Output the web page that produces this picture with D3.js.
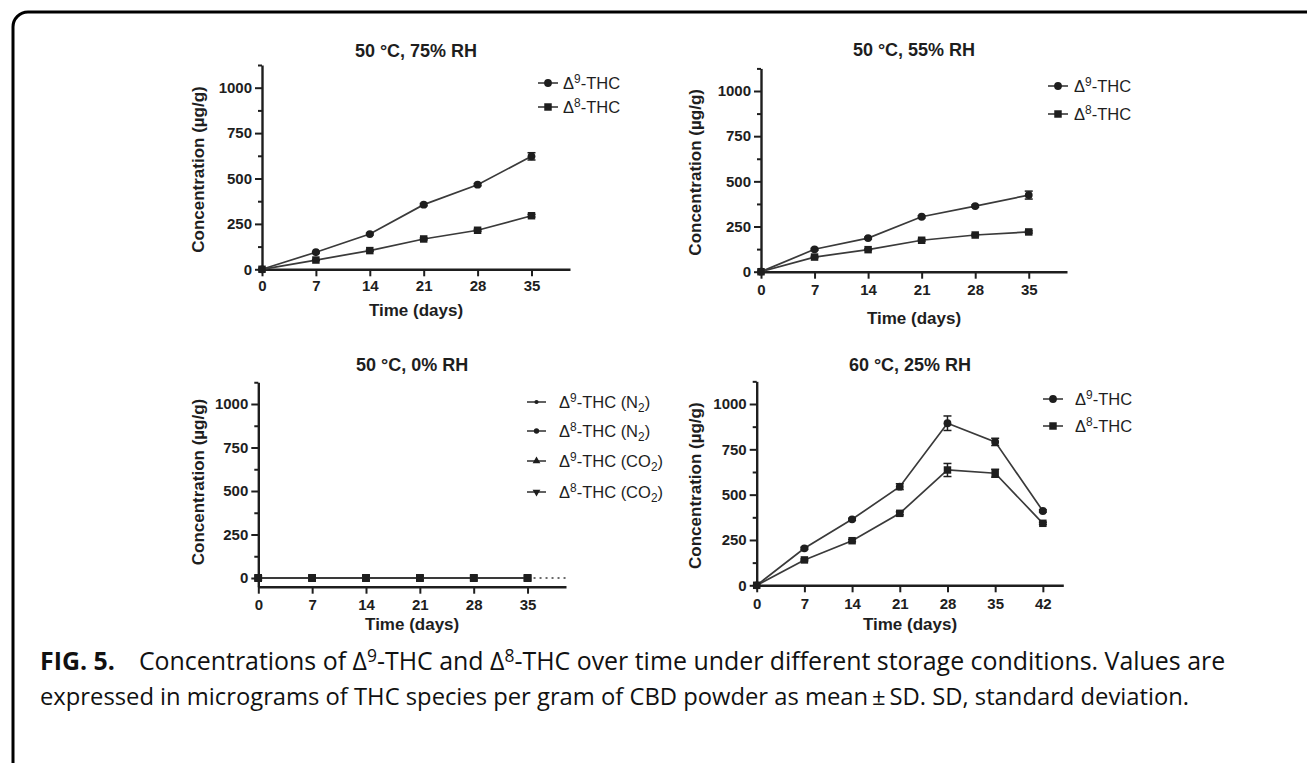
<!DOCTYPE html>
<html>
<head>
<meta charset="utf-8">
<script src="https://cdn.jsdelivr.net/npm/d3@7"></script>
<style>
  body { margin: 0; background: #fff; }
  svg { display: block; }
</style>
</head>
<body>
<div class="canvas"></div>
<script>
// data (µg/g, mean and SD)
const days = [0, 7, 14, 21, 28, 35];
const days60 = [0, 7, 14, 21, 28, 35, 42];
const yTicks = [0, 250, 500, 750, 1000];
const yMinor = [125, 375, 625, 875, 1125];

// 50 °C, 75% RH
const d9_75 = [0, 94, 194, 356, 466, 622];
const d9_75sd = [0, 4, 5, 6, 6, 20];
const d8_75 = [0, 51, 103, 167, 215, 295];
const d8_75sd = [0, 3, 4, 5, 5, 7];

// 50 °C, 55% RH
const d9_55 = [0, 124, 186, 304, 363, 424];
const d9_55sd = [0, 5, 5, 6, 6, 22];
const d8_55 = [0, 81, 122, 174, 203, 220];
const d8_55sd = [0, 4, 4, 5, 5, 6];

// 50 °C, 0% RH (nothing detected)
const d9_N2 = [0, 0, 0, 0, 0, 0];
const d8_N2 = [0, 0, 0, 0, 0, 0];
const d9_CO2 = [0, 0, 0, 0, 0, 0];
const d8_CO2 = [0, 0, 0, 0, 0, 0];

// 60 °C, 25% RH
const d9_60 = [0, 204, 364, 544, 894, 791, 410];
const d9_60sd = [0, 6, 6, 16, 40, 20, 6];
const d8_60 = [0, 140, 246, 397, 636, 618, 342];
const d8_60sd = [0, 5, 6, 8, 36, 22, 6];

const W = 1307, H = 763;
const ink = "#1e1e1e";
const lineCol = "#3a3a3a";
const chartFont = "'Liberation Sans', Arial, sans-serif";

const svg = d3.select(".canvas").append("svg")
  .attr("width", W)
  .attr("height", H);

// page frame, rounded top-left corner
svg.append("path")
  .attr("d", "M13,775 V27 A15,15 0 0 1 28,12 H1315")
  .attr("fill", "none")
  .attr("stroke", "#000")
  .attr("stroke-width", 3);

const circle = d3.symbol().type(d3.symbolCircle).size(48);
const square = d3.symbol().type(d3.symbolSquare).size(56);

const panels = [
  {
    title: "50 °C, 75% RH", left: 262, right: 570, xMax: 40, xTicks: days,
    zero: 269.3, y1000: 87.7, yMin: 0, titleY: 57, xLabDy: 4, xTitleY: 316, yTitleX: 198,
    legX: 538, legTextX: 563, legY: [83, 107],
    series: [
      { x: days, v: d9_75, sd: d9_75sd, sym: circle, label: ["9", ""] },
      { x: days, v: d8_75, sd: d8_75sd, sym: square, label: ["8", ""] }
    ]
  },
  {
    title: "50 °C, 55% RH", left: 761, right: 1067, xMax: 40, xTicks: days,
    zero: 271.7, y1000: 91, yMin: 0, titleY: 56, xLabDy: 6, xTitleY: 324, yTitleX: 695,
    legX: 1048, legTextX: 1074, legY: [86, 114],
    series: [
      { x: days, v: d9_55, sd: d9_55sd, sym: circle, label: ["9", ""] },
      { x: days, v: d8_55, sd: d8_55sd, sym: square, label: ["8", ""] }
    ]
  },
  {
    title: "50 °C, 0% RH", left: 258.3, right: 566, xMax: 40, xTicks: days,
    zero: 578, y1000: 404, yMin: -50, titleY: 371, xLabDy: 6, xTitleY: 630, yTitleX: 198,
    legX: 527, legTextX: 559, legY: [402, 431, 461, 492], dotted: true,
    series: [
      { x: days, v: d9_N2, sym: d3.symbol().type(d3.symbolCircle).size(14), label: ["9", "N"] },
      { x: days, v: d8_N2, sym: d3.symbol().type(d3.symbolCircle).size(22), label: ["8", "N"] },
      { x: days, v: d9_CO2, sym: d3.symbol().type(d3.symbolTriangle).size(26), label: ["9", "CO"] },
      { x: days, v: d8_CO2, sym: d3.symbol().type(d3.symbolTriangle).size(26), flip: true, label: ["8", "CO"] }
    ]
  },
  {
    title: "60 °C, 25% RH", left: 756.7, right: 1063.3, xMax: 45, xTicks: days60,
    zero: 585.3, y1000: 404, yMin: 0, titleY: 371, xLabDy: 6, xTitleY: 630, yTitleX: 695,
    legX: 1043, legTextX: 1075, legY: [399, 426],
    series: [
      { x: days60, v: d9_60, sd: d9_60sd, sym: circle, label: ["9", ""] },
      { x: days60, v: d8_60, sd: d8_60sd, sym: square, label: ["8", ""] }
    ]
  }
];

function thcLabel(text, lab) {
  text.append("tspan").text("Δ");
  text.append("tspan").attr("dy", -6).attr("font-size", "72%").text(lab[0]);
  if (lab[1]) {
    text.append("tspan").attr("dy", 6).text("-THC (" + lab[1]);
    text.append("tspan").attr("dy", 4).attr("font-size", "72%").text("2");
    text.append("tspan").attr("dy", -4).text(")");
  } else {
    text.append("tspan").attr("dy", 6).text("-THC");
  }
}

panels.forEach((p) => {
  const per = (p.zero - p.y1000) / 1000;
  const x = d3.scaleLinear().domain([0, p.xMax]).range([p.left, p.right]);
  const y = d3.scaleLinear()
    .domain([p.yMin, 1125])
    .range([p.zero - p.yMin * per, p.zero - 1125 * per]);

  const g = svg.append("g").attr("font-family", chartFont);

  // title
  g.append("text")
    .attr("x", (p.left + p.right) / 2)
    .attr("y", p.titleY)
    .attr("text-anchor", "middle")
    .attr("font-size", 18)
    .attr("font-weight", "bold")
    .attr("fill", ink)
    .text(p.title);

  // axes
  const xAxisGroup = g.append("g").attr("transform", `translate(0,${y(p.yMin)})`)
    .call(d3.axisBottom(x).tickValues(p.xTicks).tickSize(7).tickSizeOuter(0).tickPadding(p.xLabDy));
  const yAxisGroup = g.append("g").attr("transform", `translate(${p.left},0)`)
    .call(d3.axisLeft(y).tickValues(yTicks).tickFormat(d3.format("d")).tickSize(7).tickSizeOuter(0).tickPadding(3));
  g.append("g").attr("transform", `translate(${p.left},0)`)
    .call(d3.axisLeft(y).tickValues(yMinor).tickSize(4).tickSizeOuter(0).tickFormat(""))
    .select(".domain").remove();

  g.selectAll(".domain").attr("stroke", ink).attr("stroke-width", 2.4);
  g.selectAll(".tick line").attr("stroke", ink).attr("stroke-width", 2);
  [xAxisGroup, yAxisGroup].forEach((ax) => {
    ax.selectAll("text")
      .attr("font-family", chartFont)
      .attr("font-size", 15)
      .attr("font-weight", "bold")
      .attr("fill", ink);
  });

  // axis titles
  g.append("text")
    .attr("x", (p.left + p.right) / 2)
    .attr("y", p.xTitleY)
    .attr("text-anchor", "middle")
    .attr("font-size", 17)
    .attr("font-weight", "bold")
    .attr("fill", ink)
    .text("Time (days)");
  g.append("text")
    .attr("transform", `translate(${p.yTitleX},${(y(0) + y(1000)) / 2 - 9}) rotate(-90)`)
    .attr("text-anchor", "middle")
    .attr("dominant-baseline", "central")
    .attr("font-size", 17)
    .attr("font-weight", "bold")
    .attr("fill", ink)
    .text("Concentration (µg/g)");

  if (p.dotted) {
    g.append("line")
      .attr("x1", x(35)).attr("x2", x(p.xMax))
      .attr("y1", y(0)).attr("y2", y(0))
      .attr("stroke", lineCol)
      .attr("stroke-width", 1.6)
      .attr("stroke-dasharray", "2,4");
  }

  // data
  const line = d3.line().x((d) => x(d[0])).y((d) => y(d[1]));
  p.series.forEach((s) => {
    const pts = s.x.map((t, i) => [t, s.v[i], s.sd ? s.sd[i] : 0]);
    g.append("path")
      .datum(pts)
      .attr("d", line)
      .attr("fill", "none")
      .attr("stroke", lineCol)
      .attr("stroke-width", 1.7);

    const eb = g.append("g").attr("stroke", ink).attr("stroke-width", 1.5);
    pts.filter((d) => d[2] > 0).forEach((d) => {
      eb.append("line").attr("x1", x(d[0])).attr("x2", x(d[0]))
        .attr("y1", y(d[1] - d[2])).attr("y2", y(d[1] + d[2]));
      [d[1] - d[2], d[1] + d[2]].forEach((v) => {
        eb.append("line").attr("x1", x(d[0]) - 4).attr("x2", x(d[0]) + 4)
          .attr("y1", y(v)).attr("y2", y(v));
      });
    });

    const sym = p.dotted ? square : s.sym;
    g.selectAll(null)
      .data(pts)
      .enter()
      .append("path")
      .attr("d", sym)
      .attr("transform", (d) => `translate(${x(d[0])},${y(d[1])})`)
      .attr("fill", ink);
  });

  // legend
  p.series.forEach((s, i) => {
    const ly = p.legY[i];
    const w = p.dotted ? 19 : 20;
    g.append("line")
      .attr("x1", p.legX).attr("x2", p.legX + w)
      .attr("y1", ly).attr("y2", ly)
      .attr("stroke", lineCol)
      .attr("stroke-width", 1.6);
    g.append("path")
      .attr("d", s.sym)
      .attr("transform", `translate(${p.legX + w / 2},${ly})${s.flip ? " rotate(180)" : ""}`)
      .attr("fill", ink);
    const t = g.append("text")
      .attr("x", p.legTextX)
      .attr("y", ly + 6)
      .attr("font-size", 16.5)
      .attr("fill", ink);
    thcLabel(t, s.label);
  });
});

// caption
const capFont = "'Open Sans', 'Noto Sans', sans-serif";
const cap1 = svg.append("text")
  .attr("x", 40).attr("y", 670)
  .attr("font-family", capFont)
  .attr("font-size", 20)
  .attr("fill", "#111");
cap1.append("tspan").attr("font-weight", "bold").text("FIG. 5.");
cap1.append("tspan").attr("dx", 24).text("Concentrations of Δ");
cap1.append("tspan").attr("dy", -8).attr("font-size", 14).text("9");
cap1.append("tspan").attr("dy", 8).text("-THC and Δ");
cap1.append("tspan").attr("dy", -8).attr("font-size", 14).text("8");
cap1.append("tspan").attr("dy", 8)
  .text("-THC over time under different storage conditions. Values are");

const cap2 = svg.append("text")
  .attr("x", 40).attr("y", 705)
  .attr("font-family", capFont)
  .attr("font-size", 20)
  .attr("fill", "#111")
  .text("expressed in micrograms of THC species per gram of CBD powder as mean\u2009±\u2009SD. SD, standard deviation.");

// fit caption lines to the measured widths
[[cap1, 1162], [cap2, 1150]].forEach(([t, target]) => {
  const len = t.node().getComputedTextLength();
  const f = 20 * target / len;
  t.attr("font-size", f);
  t.selectAll("tspan").filter(function () { return this.getAttribute("font-size") === "14"; })
    .attr("font-size", f * 0.7);
});
</script>
</body>
</html>
